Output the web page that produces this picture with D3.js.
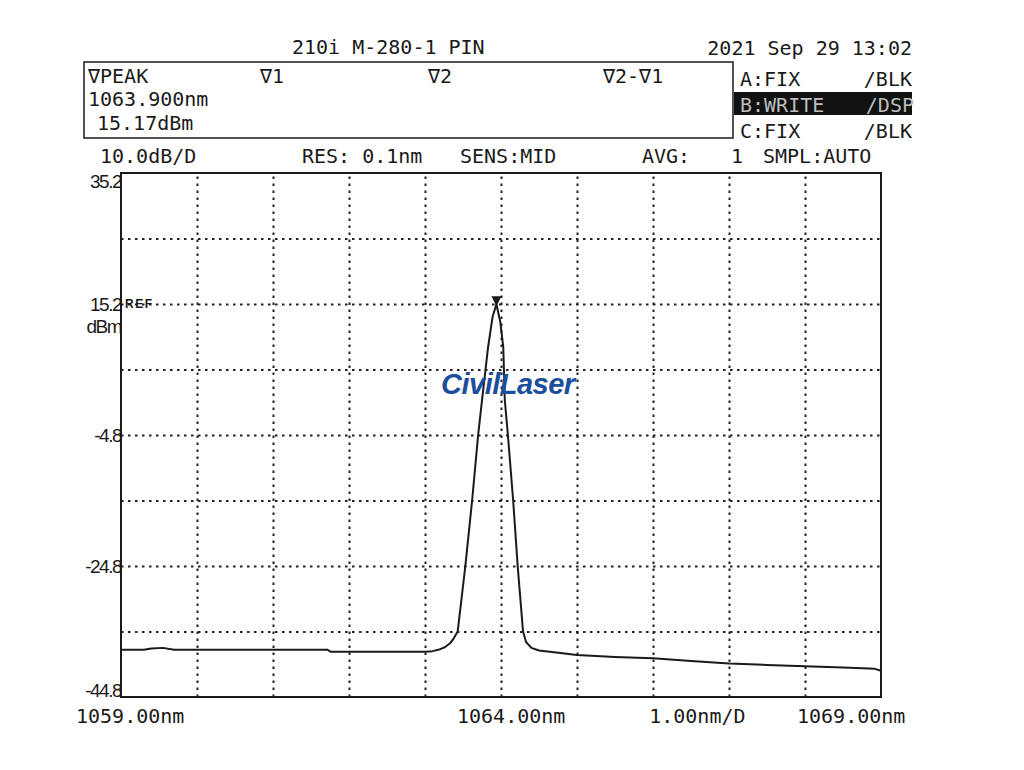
<!DOCTYPE html>
<html><head><meta charset="utf-8">
<script src="https://cdn.jsdelivr.net/npm/d3@7"></script>
<style>
body{margin:0;background:#fff;}
svg{display:block;}
.mono{font-family:"DejaVu Sans Mono",monospace;font-size:20px;fill:#1a1a1a;}
.ylab{font-family:"Liberation Sans",Arial,sans-serif;font-size:19px;fill:#1a1a1a;letter-spacing:-1.5px;}
</style></head>
<body>
<svg id="c" width="1024" height="770"></svg>
<script>
// ---- data ----
const wavelength = [1059.00,1059.30,1059.40,1059.55,1059.70,1060.00,1060.50,1061.00,1061.50,1061.72,1061.76,1062.00,1062.50,1063.00,1063.10,1063.20,1063.26,1063.33,1063.38,1063.43,1063.53,1063.62,1063.70,1063.75,1063.83,1063.89,1063.94,1063.99,1064.03,1064.05,1064.09,1064.16,1064.22,1064.29,1064.33,1064.40,1064.50,1064.78,1065.00,1065.50,1066.00,1066.50,1067.00,1067.50,1068.00,1068.50,1068.92,1069.00];
const power = [-37.6,-37.6,-37.4,-37.3,-37.6,-37.6,-37.6,-37.6,-37.6,-37.6,-37.9,-37.9,-37.9,-37.9,-37.8,-37.5,-37.2,-36.6,-35.8,-34.8,-24.9,-14.8,-4.7,0.5,8.6,13.3,15.17,12.5,8.6,0.5,-4.7,-14.8,-24.9,-34.8,-36.4,-37.3,-37.7,-38.1,-38.4,-38.7,-38.9,-39.3,-39.7,-39.9,-40.1,-40.3,-40.5,-40.8];
const xDomain = [1059, 1069];
const yDomain = [-44.8, 35.2];
const xGrid = [1060,1061,1062,1063,1064,1065,1066,1067,1068];
const yGrid = [25.2,15.2,5.2,-4.8,-14.8,-24.8,-34.8];
const yLabels = [35.2,15.2,-4.8,-24.8,-44.8];
const xLabels = ["1059.00nm","1064.00nm","1.00nm/D","1069.00nm"];
const peakWl = 1063.94, peakDbm = 15.17;

// ---- drawing ----
const svg = d3.select("#c");
svg.append("rect").attr("width",1024).attr("height",770).attr("fill","#fff");
const L=121,R=881,T=173,B=697;
const x = d3.scaleLinear().domain(xDomain).range([L,R]);
const y = d3.scaleLinear().domain(yDomain).range([B,T]);

// gridlines
const gx = svg.append("g").attr("transform",`translate(0,${B})`)
  .call(d3.axisBottom(x).tickValues(xGrid).tickSize(-(B-T)).tickFormat(""));
gx.select(".domain").remove();
gx.selectAll("line").attr("stroke","#222").attr("stroke-width",2).attr("stroke-dasharray","2.5,4.5");
const gy = svg.append("g").attr("transform",`translate(${L},0)`)
  .call(d3.axisLeft(y).tickValues(yGrid).tickSize(-(R-L)).tickFormat(""));
gy.select(".domain").remove();
gy.selectAll("line").attr("stroke","#222").attr("stroke-width",2).attr("stroke-dasharray","2.5,4.5");

// frame
svg.append("rect").attr("x",L).attr("y",T).attr("width",R-L).attr("height",B-T)
  .attr("fill","none").attr("stroke","#1a1a1a").attr("stroke-width",2);

// y labels
yLabels.forEach(v=>{
  let yy = y(v)+7;
  if (v===yDomain[1]) yy = T+15;
  if (v===yDomain[0]) yy = B;
  svg.append("text").attr("class","ylab").attr("x",L).attr("y",yy)
    .attr("text-anchor","end").text(v.toFixed(1));
});
svg.append("text").attr("class","ylab").attr("x",L).attr("y",y(15.2)+29)
  .attr("text-anchor","end").text("dBm");
svg.append("text").attr("x",L+4).attr("y",y(15.2)+4)
  .attr("font-family","Liberation Sans, Arial, sans-serif").attr("font-size",12)
  .attr("font-weight","bold").attr("letter-spacing",1.5).attr("fill","#1a1a1a").text("REF");

// x labels
const xl = [
  {t:xLabels[0], x:x(1059)-45},
  {t:xLabels[1], x:x(1064)-44},
  {t:xLabels[2], x:x(1065.95)},
  {t:xLabels[3], x:x(1068.0)-8}
];
xl.forEach(d=>svg.append("text").attr("class","mono").attr("x",d.x).attr("y",723).text(d.t));

// trace
const pts = wavelength.map((w,i)=>[w,power[i]]);
svg.append("path").datum(pts)
  .attr("d",d3.line().x(d=>x(d[0])).y(d=>y(d[1])))
  .attr("fill","none").attr("stroke","#1a1a1a").attr("stroke-width",2).attr("stroke-linejoin","round");

// peak marker
const px=x(peakWl), py=y(peakDbm);
svg.append("path").attr("d",`M${px-5},${py-8} L${px+5},${py-8} L${px},${py+2} Z`).attr("fill","#1a1a1a");

// watermark
const wm = svg.append("text").attr("x",441).attr("y",394)
  .attr("font-family","Liberation Sans, Arial, sans-serif").attr("font-size",29)
  .attr("font-weight","bold").attr("font-style","italic").attr("fill","#1b4e9c")
  .attr("letter-spacing","-0.5");
wm.append("tspan").text("Civil");
wm.append("tspan").text("Laser");

// header
const hdr = [
  {t:"210i M-280-1 PIN", x:292, y:54},
  {t:"2021 Sep 29 13:02", x:912, y:55, a:"end"},
  {t:"\u2207PEAK", x:88, y:83},
  {t:"\u22071", x:260, y:83},
  {t:"\u22072", x:428, y:83},
  {t:"\u22072-\u22071", x:603, y:83},
  {t:"1063.900nm", x:88, y:106},
  {t:"15.17dBm", x:97, y:130},
  {t:"A:FIX", x:740, y:86},
  {t:"/BLK", x:912, y:86, a:"end"},
  {t:"C:FIX", x:740, y:138},
  {t:"/BLK", x:912, y:138, a:"end"},
  {t:"10.0dB/D", x:100, y:163},
  {t:"RES: 0.1nm", x:302, y:163},
  {t:"SENS:MID", x:460, y:163},
  {t:"AVG:", x:642, y:163},
  {t:"1", x:731, y:163},
  {t:"SMPL:AUTO", x:763, y:163}
];
svg.append("rect").attr("x",84).attr("y",62).attr("width",649).attr("height",76)
  .attr("fill","none").attr("stroke","#1a1a1a").attr("stroke-width",1.5);
svg.append("rect").attr("x",734).attr("y",92).attr("width",178).attr("height",23).attr("fill","#111");
hdr.forEach(d=>svg.append("text").attr("class","mono").attr("x",d.x).attr("y",d.y)
  .attr("text-anchor",d.a||"start").text(d.t));
svg.append("text").attr("class","mono").attr("x",740).attr("y",112).style("fill","#bdbdbd").text("B:WRITE");
svg.append("text").attr("class","mono").attr("x",914).attr("y",112).attr("text-anchor","end").style("fill","#bdbdbd").text("/DSP");
</script>
</body></html>
